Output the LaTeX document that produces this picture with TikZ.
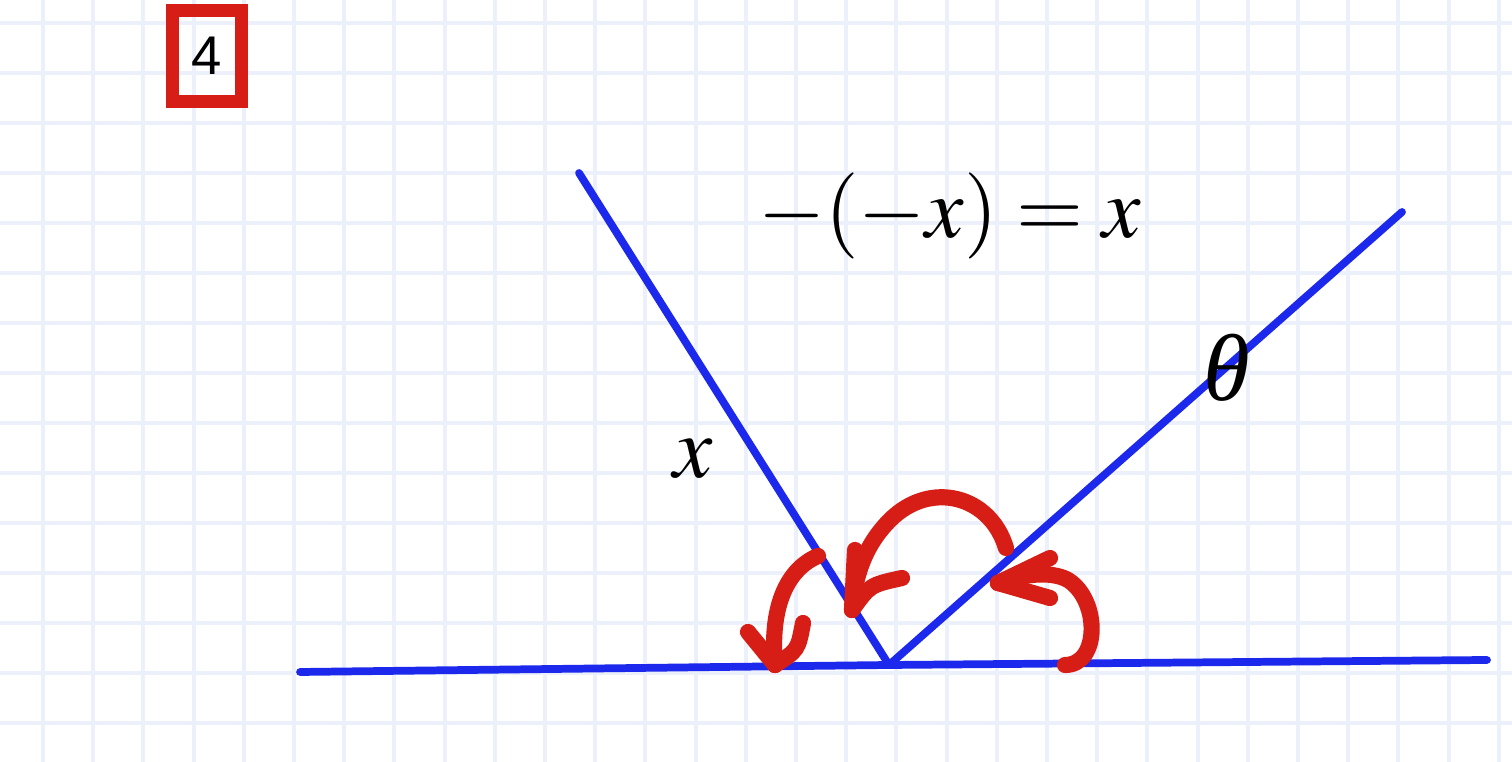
\documentclass[tikz,border=0pt]{standalone}
\usepackage{mathptmx}
\usepackage{fontspec}
\setmainfont{Liberation Serif}
\newfontfamily\boxfont{Liberation Sans}
\definecolor{gridblue}{RGB}{235,240,250}
\definecolor{lineblue}{RGB}{28,40,235}
\definecolor{markred}{RGB}{215,30,22}
\tikzset{
  ray/.style={lineblue, line width=2.2pt, line cap=round, line join=round},
  turn/.style={markred, line width=4.6pt, line cap=round, line join=round},
  gridline/.style={gridblue, line width=1.1pt},
}
\begin{document}
\begin{tikzpicture}[x=0.01cm,y=-0.01cm]
\fill[white] (0,0) rectangle (1512,762);
\useasboundingbox (0,0) rectangle (1512,762);
\foreach \i in {0,...,29} \draw[gridline] ({43+50.2*\i},0) -- ({43+50.2*\i},762);
\foreach \j in {0,...,14} \draw[gridline] (0,{23+50*\j}) -- (1512,{23+50*\j});
\node[draw=markred, line width=3.7pt, minimum width=0.69cm, minimum height=0.91cm, inner sep=0pt,
  font=\boxfont\fontsize{15.5}{16}\selectfont] (num) at (207,56) {4};
\coordinate (O) at (889,665);
\coordinate (L) at (300,672);
\coordinate (R) at (1487,660);
\coordinate (A) at (579,173);
\coordinate (B) at (1402,212);
\draw[ray] (L) -- (O) -- (R);
\draw[ray] (A) -- (O) -- (B);
\node[font=\fontsize{24.5}{26}\selectfont] (eq) at (950,216) {$-(-x)=x$};
\node[font=\fontsize{25}{26}\selectfont] (xlab) at (693,459) {$x$};
\node[font=\fontsize{27}{28}\selectfont] (theta) at (1227,368) {\textit{θ}};
\draw[turn] (818,556) .. controls (785,570) and (770,610) .. (775,665);
\draw[turn] (775,665) -- (748,632);
\draw[turn] (775,665) .. controls (798,650) .. (803,623);
\draw[turn] (1006,548) .. controls (990,495) and (930,480) .. (890,520) .. controls (865,545) and (855,575) .. (852,610);
\draw[turn] (852,610) -- (855,550);
\draw[turn] (852,610) .. controls (870,585) .. (902,578);
\draw[turn] (1065,665) .. controls (1100,665) and (1100,600) .. (1068,580) .. controls (1050,570) and (1020,575) .. (998,583);
\draw[turn] (998,583) -- (1050,558);
\draw[turn] (998,583) -- (1050,598);
\end{tikzpicture}
\end{document}
